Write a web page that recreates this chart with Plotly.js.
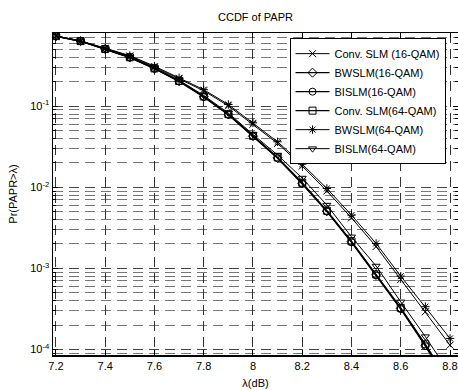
<!DOCTYPE html>
<html>
<head>
<meta charset="utf-8">
<script src="https://cdn.plot.ly/plotly-3.0.1.min.js"></script>
<style>html,body{margin:0;padding:0;background:#fff;}#chart{width:458px;height:390px;}</style>
</head>
<body>
<div id="chart"></div>
<script>
// x values (dB)
var lambdaDb = [7.2, 7.3, 7.4, 7.5, 7.6, 7.7, 7.8, 7.9, 8.0, 8.1, 8.2, 8.3, 8.4, 8.5, 8.6, 8.7, 8.8];
// series values
var convSlm16 = [0.73, 0.63, 0.515, 0.415, 0.305, 0.218, 0.155, 0.101, 0.060, 0.0348, 0.0183, 0.0090, 0.0042, 0.00186, 0.00073, 0.000292, 0.000113];
var bwslm16   = [0.731, 0.635, 0.506, 0.400, 0.292, 0.204, 0.131, 0.0792, 0.0428, 0.0231, 0.0112, 0.00509, 0.00213, 0.000834, 0.000321, 0.000113, 0.000037];
var bislm16   = [0.729, 0.633, 0.504, 0.398, 0.290, 0.202, 0.130, 0.0785, 0.0424, 0.0228, 0.0110, 0.00502, 0.00210, 0.000820, 0.000315, 0.000110, 0.000035];
var convSlm64 = [0.732, 0.636, 0.507, 0.401, 0.293, 0.205, 0.132, 0.0798, 0.0432, 0.0234, 0.0114, 0.00515, 0.00216, 0.000845, 0.000326, 0.000116, 0.000039];
var bwslm64   = [0.735, 0.64, 0.52, 0.421, 0.312, 0.224, 0.160, 0.105, 0.0624, 0.0364, 0.0193, 0.00968, 0.00454, 0.00203, 0.000803, 0.000337, 0.000137];
var bislm64   = [0.733, 0.638, 0.510, 0.405, 0.297, 0.209, 0.136, 0.0825, 0.0450, 0.0250, 0.0130, 0.00604, 0.00245, 0.00107, 0.000387, 0.000144, 0.00005];
// legend labels
var seriesNames = ['Conv. SLM (16-QAM)', 'BWSLM(16-QAM)', 'BISLM(16-QAM)', 'Conv. SLM(64-QAM)', 'BWSLM(64-QAM)', 'BISLM(64-QAM)'];
// tick labels
var xTicks = [7.2, 7.4, 7.6, 7.8, 8.0, 8.2, 8.4, 8.6, 8.8];
var xTickText = ['7.2', '7.4', '7.6', '7.8', '8', '8.2', '8.4', '8.6', '8.8'];
var yTicks = [1e-4, 1e-3, 1e-2, 1e-1];
var yTickText = ['10<sup>-4</sup>', '10<sup>-3</sup>', '10<sup>-2</sup>', '10<sup>-1</sup>'];

var seriesData = [convSlm16, bwslm16, bislm16, convSlm64, bwslm64, bislm64];
var symbols = ['x-thin-open', 'diamond-open', 'circle-open', 'square-open', 'asterisk-open', 'triangle-down-open'];
var widths = [1, 1.3, 1.3, 1.3, 1, 1];

var traces = seriesData.map(function (ys, i) {
  return {
    x: lambdaDb, y: ys, name: seriesNames[i], type: 'scatter', mode: 'lines+markers',
    line: {color: '#000', width: widths[i]},
    marker: {symbol: symbols[i], size: 7, color: '#000', line: {color: '#000', width: 1}},
    cliponaxis: true
  };
});

var minorVals = [];
for (var e = -5; e <= -1; e++) {
  for (var m = 2; m <= 9; m++) minorVals.push(m * Math.pow(10, e));
}

var fontFam = 'Liberation Sans, Arial, sans-serif';
var layout = {
  width: 458, height: 390,
  margin: {l: 53, r: 0, t: 33, b: 35},
  paper_bgcolor: '#fff', plot_bgcolor: '#fff',
  font: {family: fontFam, size: 11, color: '#000'},
  title: {text: 'CCDF of PAPR', font: {family: fontFam, size: 11, color: '#000'},
          x: 0.5, xref: 'paper', y: 1 - 17 / 390, yref: 'container', yanchor: 'middle'},
  showlegend: true,
  legend: {x: 0.584, y: 0.984, xanchor: 'left', yanchor: 'top', bgcolor: '#fff',
           bordercolor: '#000', borderwidth: 1, font: {family: fontFam, size: 11, color: '#000'},
           tracegroupgap: 0, itemwidth: 34},
  xaxis: {
    range: [7.188, 8.8325], tickmode: 'array', tickvals: xTicks, ticktext: xTickText,
    ticks: 'inside', ticklen: 5, tickcolor: '#000',
    showline: true, linecolor: '#000', linewidth: 1.5, mirror: 'ticks',
    showgrid: true, gridcolor: '#333', gridwidth: 1, griddash: '10px,6px',
    zeroline: false, tickfont: {size: 11},
    title: {text: 'λ(dB)', font: {size: 11}, standoff: 8}
  },
  yaxis: {
    type: 'log', range: [-4.068, -0.097], tickmode: 'array', tickvals: yTicks, ticktext: yTickText,
    ticks: 'inside', ticklen: 5, tickcolor: '#000',
    showline: true, linecolor: '#000', linewidth: 1.5, mirror: 'ticks',
    showgrid: true, gridcolor: '#444', gridwidth: 1, griddash: '10px,6px',
    zeroline: false, tickfont: {size: 11},
    minor: {tickmode: 'array', tickvals: minorVals, ticks: 'inside', ticklen: 3, tickcolor: '#000',
            showgrid: true, gridcolor: '#777', gridwidth: 1, griddash: '10px,6px'},
    title: {text: 'Pr(PAPR>λ)', font: {size: 11}, standoff: 10}
  }
};

Plotly.newPlot('chart', traces, layout, {staticPlot: true, displayModeBar: false});
</script>
</body>
</html>
